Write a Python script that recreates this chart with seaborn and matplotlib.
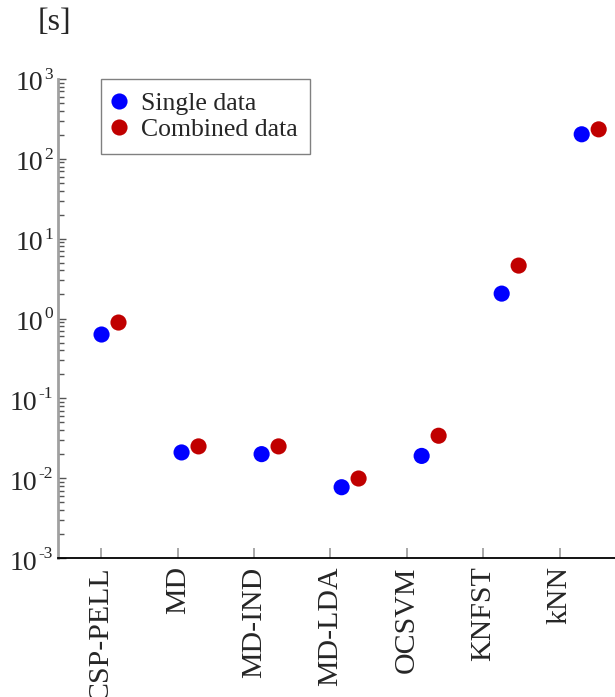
import matplotlib
matplotlib.use("Agg")
import matplotlib.pyplot as plt
import matplotlib.transforms as mtransforms
import seaborn as sns
import pandas as pd
import numpy as np

methods = ["CSP-PELL", "MD", "MD-IND", "MD-LDA", "OCSVM", "KNFST", "kNN"]
single_data = [0.63, 0.021, 0.020, 0.0077, 0.019, 2.05, 203.0]
combined_data = [0.89, 0.025, 0.025, 0.0099, 0.034, 4.6, 234.0]
series_names = ["Single data", "Combined data"]
decades = [-3, -2, -1, 0, 1, 2, 3]

sns.set_theme(style="ticks")
plt.rcParams["font.family"] = ["Liberation Serif", "DejaVu Serif"]

# long table: one row per (method, series); the two series sit side by side
offset = 0.106
rows = []
for i, m in enumerate(methods):
    rows.append({"method": m, "pos": i - offset, "time": single_data[i], "series": series_names[0]})
    rows.append({"method": m, "pos": i + offset, "time": combined_data[i], "series": series_names[1]})
df = pd.DataFrame(rows)

fig = plt.figure(figsize=(6.15, 6.97), dpi=100)
ax = fig.add_axes([58 / 615, 1 - 558 / 697, 1 - 58 / 615, (558 - 79) / 697])

sns.scatterplot(data=df, x="pos", y="time", hue="series",
                palette={series_names[0]: "#0000FF", series_names[1]: "#C00000"},
                s=135, linewidth=0, ax=ax)

ax.set_yscale("log")
ax.set_ylim(1e-3, 1e3)
ax.set_xlim(-0.65, 6.31)

# category ticks sit a little left of each pair of points
tick_pos = [-0.11 + 0.955 * i for i in range(len(methods))]
ax.set_xticks(tick_pos)
ax.set_xticklabels(methods, rotation=90, fontsize=21.5)
ax.tick_params(axis="x", direction="in", length=7, width=1.2, color="#9a9a9a", pad=6)

# y ticks: major decades plus 2..9 minor ticks, labels drawn by hand below
ax.set_yticks([10.0 ** e for e in decades])
ax.set_yticklabels([])
ax.yaxis.set_minor_locator(matplotlib.ticker.LogLocator(base=10, subs=np.arange(2, 10)))
ax.yaxis.set_minor_formatter(matplotlib.ticker.NullFormatter())
ax.tick_params(axis="y", which="major", direction="in", length=6, width=1.0, color="#555555")
ax.tick_params(axis="y", which="minor", direction="in", length=4, width=1.0, color="#555555")

ax.set_xlabel("")
ax.set_ylabel("")
sns.despine(ax=ax)
ax.spines["left"].set_color("#a0a0a0")
ax.spines["left"].set_linewidth(2)
ax.spines["bottom"].set_color("black")
ax.spines["bottom"].set_linewidth(1.3)

# "10" with a small raised exponent (plain hyphen for negatives)
renderer = fig.canvas.get_renderer()
ytrans = mtransforms.blended_transform_factory(ax.transAxes, ax.transData)
for e in decades:
    exp_tr = mtransforms.offset_copy(ytrans, fig=fig, x=-5, y=12, units="dots")
    t_exp = ax.text(0, 10.0 ** e, str(e), fontsize=12.5, ha="right", va="top",
                    transform=exp_tr, clip_on=False)
    w = t_exp.get_window_extent(renderer=renderer).width
    base_tr = mtransforms.offset_copy(ytrans, fig=fig, x=-5 - w - 1.5, y=-5, units="dots")
    ax.text(0, 10.0 ** e, "10", fontsize=20, ha="right", va="center",
            transform=base_tr, clip_on=False)

leg = ax.legend(loc="upper left", bbox_to_anchor=(0.077, 1.0), borderaxespad=0,
                fontsize=18.5, frameon=True, fancybox=False, edgecolor="#808080",
                framealpha=1, handletextpad=0.65, labelspacing=0.14,
                borderpad=0.5, handlelength=0.4, markerscale=1.0)
leg.get_frame().set_linewidth(1.0)

fig.text(54 / 615, 1 - 22 / 697, "[s]", fontsize=23, ha="center", va="center")

fig.savefig("out.png", dpi=100)
